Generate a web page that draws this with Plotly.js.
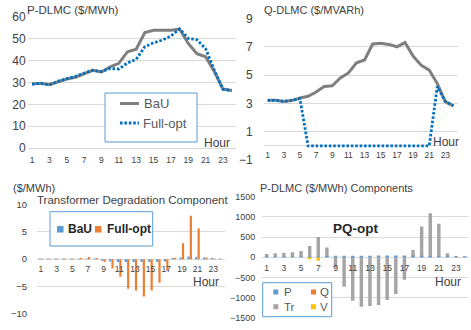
<!DOCTYPE html>
<html><head><meta charset="utf-8">
<script src="https://cdn.plot.ly/plotly-3.0.1.min.js"></script>
<style>html,body{margin:0;padding:0;background:#fff}#chart{width:471px;height:330px}</style>
</head><body><div id="chart"></div>
<script>
// ---------- data ----------
const hours = [1,2,3,4,5,6,7,8,9,10,11,12,13,14,15,16,17,18,19,20,21,22,23,24];
const xTickVals = [1,3,5,7,9,11,13,15,17,19,21,23];
const xTickText = ['1','3','5','7','9','11','13','15','17','19','21','23'];

// P-DLMC ($/MWh)
const pdlmcBaU     = [29.3,29.6,29.0,30.4,31.6,32.4,33.9,35.6,34.8,37.2,38.8,44.1,45.2,52.9,53.9,54.0,53.9,54.5,47.9,43.2,41.8,35.0,27.0,26.3];
const pdlmcFullOpt = [29.3,29.6,29.0,30.6,31.8,32.8,34.3,35.6,35.0,36.4,36.2,39.0,40.6,46.4,48.2,49.4,51.3,54.5,50.2,49.6,45.5,35.7,26.9,26.3];

// Q-DLMC ($/MVARh)
const qdlmcBaU     = [3.22,3.22,3.14,3.2,3.38,3.5,3.8,4.2,4.25,4.8,5.15,5.87,6.07,7.2,7.25,7.17,7.0,7.3,6.35,5.7,5.35,4.4,3.12,2.83];
const qdlmcFullOpt = [3.22,3.22,3.14,3.22,3.33,0,0,0,0,0,0,0,0,0,0,0,0,0,0,0,0,4.2,3.12,2.83];

// Transformer degradation component ($/MWh)
const trdegBaU     = [0.1,0.1,0.1,0.1,0.1,0.1,0.1,0.1,-0.3,-0.45,-0.5,-0.5,-0.5,-0.5,-0.5,-0.5,-0.45,0.2,0.3,0.5,0.4,0.3,0.2,0.1];
const trdegFullOpt = [0.1,0.1,0.1,0.1,0.1,0.2,0.4,0.2,-0.5,-1.7,-3.2,-5.4,-5.7,-6.8,-5.7,-4.3,-2.1,0.25,2.9,7.9,5.6,0.3,0.1,0.05];

// P-DLMC components, PQ-opt ($/MWh)
const compP  = [15,15,15,15,15,15,15,30,35,35,35,35,35,40,40,40,40,45,35,30,30,25,20,20];
const compQ  = [0,0,0,0,0,0,0,0,0,0,0,0,0,0,0,0,0,0,0,0,0,0,0,0];
const compTr = [80,100,105,125,155,280,500,240,-250,-730,-1080,-1230,-1210,-1185,-1060,-910,-560,180,760,1090,830,100,30,25];
const compV  = [0,0,0,0,0,-50,-85,0,0,0,0,0,0,0,0,0,0,0,0,0,0,0,0,0];

// ---------- style ----------
const W = 471, H = 330;
const px = v => v / W;
const py = v => 1 - v / H;
const FONT = 'Liberation Sans, Arial, sans-serif';
const TXT = '#404040';
const GRID = '#d9d9d9';
const GRAY = '#7f7f7f', BLUE_LINE = '#0070c0';
const C_BLUE = '#5b9bd5', C_ORANGE = '#ed7d31', C_GRAY = '#a5a5a5', C_YELLOW = '#ffc000';

const traces = [
  {x: hours, y: pdlmcBaU, xaxis: 'x', yaxis: 'y', type: 'scatter', mode: 'lines',
   line: {color: GRAY, width: 3}},
  {x: hours, y: pdlmcFullOpt, xaxis: 'x', yaxis: 'y', type: 'scatter', mode: 'lines',
   line: {color: BLUE_LINE, width: 2.8, dash: '2.6px,1.8px'}},
  {x: hours, y: qdlmcBaU, xaxis: 'x2', yaxis: 'y2', type: 'scatter', mode: 'lines',
   line: {color: GRAY, width: 3}},
  {x: hours, y: qdlmcFullOpt, xaxis: 'x2', yaxis: 'y2', type: 'scatter', mode: 'lines',
   line: {color: BLUE_LINE, width: 2.8, dash: '2.6px,1.8px'}},
  {x: hours, y: trdegBaU, xaxis: 'x3', yaxis: 'y3', type: 'bar',
   offset: -0.3, width: 0.28, marker: {color: C_BLUE}},
  {x: hours, y: trdegFullOpt, xaxis: 'x3', yaxis: 'y3', type: 'bar',
   offset: 0.0, width: 0.28, marker: {color: C_ORANGE}},
  {x: hours, y: compTr, xaxis: 'x4', yaxis: 'y4', type: 'bar',
   offset: -0.2, width: 0.4, marker: {color: C_GRAY}},
  {x: hours, y: compV, xaxis: 'x4', yaxis: 'y4', type: 'bar',
   offset: -0.2, width: 0.4, marker: {color: C_YELLOW}},
  {x: hours, y: compQ, xaxis: 'x4', yaxis: 'y4', type: 'bar',
   offset: -0.2, width: 0.4, marker: {color: C_ORANGE}},
  {x: hours, y: compP, xaxis: 'x4', yaxis: 'y4', type: 'bar',
   offset: -0.2, width: 0.4, marker: {color: C_BLUE}}
];
traces.forEach(t => { t.showlegend = false; t.hoverinfo = 'skip'; });

function xax(domain, extra) {
  return Object.assign({
    domain: domain, range: [0.5, 24.5], tickvals: xTickVals, ticktext: xTickText,
    showgrid: false, zeroline: false, showline: false, ticks: '',
    tickfont: {size: 8.5, color: TXT, family: FONT}, fixedrange: true
  }, extra);
}
function yax(domain, range, extra) {
  return Object.assign({
    domain: domain, range: range, showgrid: true, gridcolor: GRID, gridwidth: 1,
    zeroline: true, zerolinecolor: GRID, zerolinewidth: 1, showline: false, ticks: '',
    tickfont: {size: 12, color: TXT, family: FONT}, fixedrange: true
  }, extra);
}

const layout = {
  width: W, height: H, autosize: false,
  margin: {l: 0, r: 0, t: 0, b: 0},
  paper_bgcolor: '#fff', plot_bgcolor: 'rgba(0,0,0,0)',
  font: {family: FONT, color: TXT},
  barmode: 'overlay',
  xaxis:  xax([px(27.7), px(236)], {anchor: 'y', ticklabelstandoff: 5}),
  yaxis:  yax([py(148), py(17)], [0, 60], {anchor: 'x', dtick: 10, ticklabelstandoff: 1}),
  xaxis2: xax([px(263.6), px(457.5)], {anchor: 'free', position: py(146), ticklabelstandoff: 2}),
  yaxis2: yax([py(160), py(18.5)], [-1, 9], {anchor: 'x2', tickvals: [-1,1,3,5,7,9], ticklabelstandoff: 10}),
  xaxis3: xax([px(37), px(225)], {anchor: 'free', position: py(258.7), ticklabelstandoff: 4}),
  yaxis3: yax([py(314), py(204.3)], [-10, 10], {anchor: 'x3', dtick: 5, ticklabelstandoff: 9,
           tickfont: {size: 9.5, color: TXT, family: FONT}}),
  xaxis4: xax([px(262.3), px(469)], {anchor: 'free', position: py(257.3), ticklabelstandoff: 4}),
  yaxis4: yax([py(317.7), py(196.7)], [-1500, 1500], {anchor: 'x4', dtick: 500, ticklabelstandoff: 6,
           tickfont: {size: 9, color: TXT, family: FONT}}),
  shapes: [],
  annotations: []
};

function txt(x, y, text, opts) {
  layout.annotations.push(Object.assign({
    xref: 'paper', yref: 'paper', x: px(x), y: py(y), text: text, showarrow: false,
    xanchor: 'left', yanchor: 'middle', font: {size: 11, color: TXT, family: FONT}
  }, opts || {}));
}
function box(x0, y0, x1, y1, color) {
  layout.shapes.push({type: 'rect', xref: 'paper', yref: 'paper',
    x0: px(x0), x1: px(x1), y0: py(y1), y1: py(y0),
    line: {color: color, width: 1}, fillcolor: '#ffffff', layer: 'above'});
}
function sq(x, y, s, color) {
  layout.shapes.push({type: 'rect', xref: 'paper', yref: 'paper',
    x0: px(x), x1: px(x + s), y0: py(y + s / 2), y1: py(y - s / 2),
    line: {width: 0}, fillcolor: color, layer: 'above'});
}
function seg(x0, x1, y, color, width, dash) {
  layout.shapes.push({type: 'line', xref: 'paper', yref: 'paper',
    x0: px(x0), x1: px(x1), y0: py(y), y1: py(y),
    line: {color: color, width: width, dash: dash || 'solid'}, layer: 'above'});
}

// hide gridline at -1 in the Q-DLMC panel (Excel shows none there)
layout.shapes.push({type: 'line', xref: 'x2', yref: 'y2', x0: 0.5, x1: 24.5, y0: -1, y1: -1,
  line: {color: '#ffffff', width: 2}, layer: 'between'});

// titles
txt(25, 10, 'P-DLMC ($/MWh)', {font: {size: 11.5, color: TXT, family: FONT}});
txt(262, 10, 'Q-DLMC ($/MVARh)', {font: {size: 11, color: TXT, family: FONT}});
txt(11, 188, '($/MWh)', {font: {size: 11, color: TXT, family: FONT}});
txt(132, 200, 'Transformer Degradation Component', {xanchor: 'center', font: {size: 11.5, color: TXT, family: FONT}});
txt(258, 188, 'P-DLMC ($/MWh) Components', {font: {size: 11, color: TXT, family: FONT}});
txt(355, 228, '<b>PQ-opt</b>', {xanchor: 'center', font: {size: 13.5, color: '#262626', family: FONT}});

// axis titles "Hour"
txt(232, 143, 'Hour', {xanchor: 'right', font: {size: 12, color: TXT, family: FONT}});
txt(461, 142, 'Hour', {xanchor: 'right', font: {size: 12, color: TXT, family: FONT}});
txt(221, 282, 'Hour', {xanchor: 'right', font: {size: 12, color: TXT, family: FONT}});
txt(463, 282, 'Hour', {xanchor: 'right', font: {size: 12, color: TXT, family: FONT}});

// legend: top-left
box(105, 93, 197, 142, '#5b9bd5');
seg(120, 139, 103.5, GRAY, 3);
txt(142, 103.5, 'BaU', {font: {size: 13, color: '#595959', family: FONT}});
seg(120, 139, 123, BLUE_LINE, 2.8, '2.6px,1.8px');
txt(141, 123, 'Full-opt', {font: {size: 13, color: '#595959', family: FONT}});

// legend: bottom-left
box(50, 211.7, 152.7, 246, '#5b9bd5');
sq(57, 229.3, 6.5, C_BLUE);
txt(66, 229.3, '<b>BaU</b>', {font: {size: 12, color: '#262626', family: FONT}});
sq(95, 229.3, 6.5, C_ORANGE);
txt(105, 229.3, '<b>Full-opt</b>', {font: {size: 12, color: '#262626', family: FONT}});

// legend: bottom-right
box(262.7, 282.7, 331.7, 316.7, '#5b9bd5');
sq(273.3, 292, 5, C_BLUE);
txt(282, 292, 'P', {font: {size: 11.5, color: '#595959', family: FONT}});
sq(311, 292, 5, C_ORANGE);
txt(317.5, 292, 'Q', {font: {size: 11.5, color: '#595959', family: FONT}});
sq(273.3, 306.7, 5, C_GRAY);
txt(282, 306.7, 'Tr', {font: {size: 11.5, color: '#595959', family: FONT}});
sq(311, 306.7, 5, C_YELLOW);
txt(317.5, 306.7, 'V', {font: {size: 11.5, color: '#595959', family: FONT}});

Plotly.newPlot('chart', traces, layout, {staticPlot: true, displayModeBar: false});
</script>
</body></html>
